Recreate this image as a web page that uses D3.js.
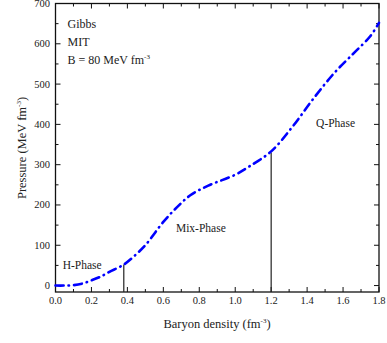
<!DOCTYPE html>
<html>
<head>
<meta charset="utf-8">
<script src="https://cdn.jsdelivr.net/npm/d3@7"></script>
<style>
  body { margin: 0; background: #fff; }
</style>
</head>
<body>
<svg width="387" height="343" font-family="'Liberation Serif', 'DejaVu Serif', serif"></svg>
<script>
// baryon density (fm^-3) and pressure (MeV fm^-3)
let density  = [0, 0.05, 0.1, 0.15, 0.2, 0.25, 0.3, 0.38, 0.45, 0.5, 0.6, 0.675, 0.75, 0.85, 1.0, 1.08, 1.2, 1.32, 1.43, 1.55, 1.66, 1.75, 1.8];
let pressure = [0, 0, 1, 5, 13, 22, 34, 52, 78, 100, 158, 194, 224, 248, 275, 296, 333, 395, 461, 527, 577, 618, 652];
// phase boundaries (vertical markers)
let boundX = [0.38, 1.2];
let boundY = [52, 330];
let xTicks = [0, 0.2, 0.4, 0.6, 0.8, 1.0, 1.2, 1.4, 1.6, 1.8];
let yTicks = [0, 100, 200, 300, 400, 500, 600, 700];
let phases = [
  {name: "H-Phase",   x: 0.04, y: 40},
  {name: "Mix-Phase", x: 0.67, y: 133},
  {name: "Q-Phase",   x: 1.45, y: 393}
];

var svg = d3.select("svg");
var x = d3.scaleLinear().domain([0, 1.8]).range([55.5, 379]);
var y = d3.scaleLinear().domain([-16, 700]).range([292, 3.5]);
var ink = "#222";

var minorX = d3.range(0, 1.81, 0.1);
var minorY = d3.range(0, 701, 50);

// frame
svg.append("rect")
  .attr("x", x(0)).attr("y", y(700))
  .attr("width", x(1.8) - x(0)).attr("height", y(-16) - y(700))
  .attr("fill", "none").attr("stroke", "#111").attr("stroke-width", 1.3);

function ticksX(yPos, dir) {
  svg.selectAll(null).data(minorX).enter().append("line")
    .attr("x1", d => x(d)).attr("x2", d => x(d))
    .attr("y1", yPos)
    .attr("y2", (d, i) => yPos + dir * (i % 2 == 0 ? 5 : 3))
    .attr("stroke", "#111").attr("stroke-width", 1);
}
function ticksY(xPos, dir) {
  svg.selectAll(null).data(minorY).enter().append("line")
    .attr("y1", d => y(d)).attr("y2", d => y(d))
    .attr("x1", xPos)
    .attr("x2", (d, i) => xPos + dir * (i % 2 == 0 ? 5 : 3))
    .attr("stroke", "#111").attr("stroke-width", 1);
}
ticksX(y(-16), -1);
ticksX(y(700), 1);
ticksY(x(0), 1);
ticksY(x(1.8), -1);

// tick labels
svg.selectAll(null).data(xTicks).enter().append("text")
  .attr("x", d => x(d)).attr("y", 304)
  .attr("text-anchor", "middle").attr("font-size", 10.5).attr("fill", ink)
  .text(d => d.toFixed(1));
svg.selectAll(null).data(yTicks).enter().append("text")
  .attr("x", 50).attr("y", d => y(d) + 3.5)
  .attr("text-anchor", "end").attr("font-size", 10.5).attr("fill", ink)
  .text(d => d);

// axis titles
var xt = svg.append("text").attr("x", 217).attr("y", 328)
  .attr("text-anchor", "middle").attr("font-size", 12.5).attr("fill", ink);
xt.append("tspan").text("Baryon density (fm");
xt.append("tspan").attr("font-size", 7).attr("dy", -5).text("-3");
xt.append("tspan").attr("dy", 5).text(")");

var yt = svg.append("text")
  .attr("transform", "translate(26,148) rotate(-90)")
  .attr("text-anchor", "middle").attr("font-size", 12.5).attr("fill", ink);
yt.append("tspan").text("Pressure (MeV fm");
yt.append("tspan").attr("font-size", 7).attr("dy", -5).text("-3");
yt.append("tspan").attr("dy", 5).text(")");

// phase boundary lines
svg.selectAll(null).data(boundX).enter().append("line")
  .attr("x1", d => x(d)).attr("x2", d => x(d))
  .attr("y1", (d, i) => y(boundY[i])).attr("y2", y(-16))
  .attr("stroke", ink).attr("stroke-width", 1.2);

// curve
var pts = density.map((d, i) => [d, pressure[i]]);
var line = d3.line().x(d => x(d[0])).y(d => y(d[1])).curve(d3.curveCatmullRom);
svg.append("path").datum(pts)
  .attr("d", line)
  .attr("fill", "none").attr("stroke", "#0000ff")
  .attr("stroke-width", 2.6)
  .attr("stroke-linecap", "round")
  .attr("stroke-dasharray", "8,5,0.5,5");

// annotations
svg.append("text").attr("x", 67.5).attr("y", 27.5).attr("font-size", 12).attr("fill", ink).text("Gibbs");
svg.append("text").attr("x", 67.5).attr("y", 45.5).attr("font-size", 12).attr("fill", ink).text("MIT");
var bt = svg.append("text").attr("x", 67.5).attr("y", 64).attr("font-size", 12).attr("fill", ink);
bt.append("tspan").text("B = 80 MeV fm");
bt.append("tspan").attr("font-size", 7).attr("dy", -5).text("-3");

svg.selectAll(null).data(phases).enter().append("text")
  .attr("x", d => x(d.x)).attr("y", d => y(d.y))
  .attr("font-size", 11.5).attr("fill", ink).text(d => d.name);
</script>
</body>
</html>
